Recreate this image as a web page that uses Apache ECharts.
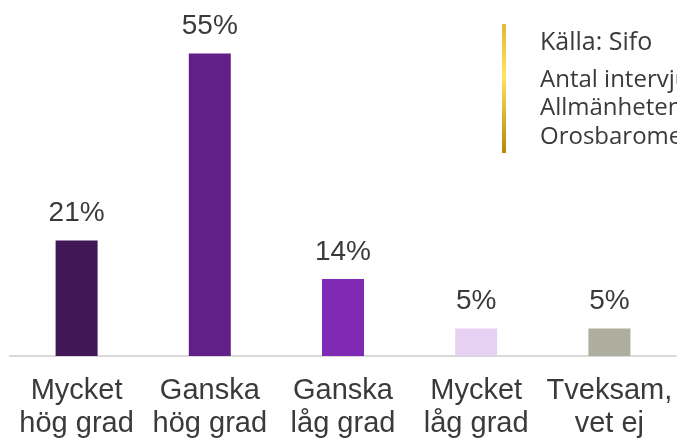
<!DOCTYPE html>
<html>
<head>
<meta charset="utf-8">
<script src="https://cdn.jsdelivr.net/npm/echarts@6/dist/echarts.min.js"></script>
<style>
  html, body { margin: 0; padding: 0; background: #fff; }
  #main { width: 677px; height: 440px; }
</style>
</head>
<body>
<div id="main"></div>
<script>
// kategorier och andelar (%)
const categories = ['Mycket\nhög grad', 'Ganska\nhög grad', 'Ganska\nlåg grad', 'Mycket\nlåg grad', 'Tveksam,\nvet ej'];
const shares = [21, 55, 14, 5, 5];
const barColors = ['#421758', '#611f87', '#7f29b5', '#e6d1f3', '#adae9e'];
const sourceLines = ['Antal intervjuer: 1000', 'Allmänheten 18-79 år', 'Orosbarometern'];

const chart = echarts.init(document.getElementById('main'));

const option = {
  animation: false,
  grid: { left: 10, right: 1, top: 26, bottom: 84 },
  xAxis: {
    type: 'category',
    data: categories,
    axisLine: { show: true, lineStyle: { color: '#d9d9d9', width: 2 } },
    axisTick: { show: false },
    axisLabel: {
      interval: 0,
      margin: 18,
      fontFamily: 'Liberation Sans, Arial, sans-serif',
      fontSize: 29,
      lineHeight: 33,
      color: '#3a3a3a'
    }
  },
  yAxis: {
    type: 'value',
    min: 0,
    max: 60,
    show: false,
    splitLine: { show: false }
  },
  series: [{
    type: 'bar',
    barWidth: 42,
    data: shares.map((v, i) => ({ value: v, itemStyle: { color: barColors[i] } })),
    label: {
      show: true,
      position: 'top',
      distance: 13,
      formatter: p => p.value + '%',
      fontFamily: 'Liberation Sans, Arial, sans-serif',
      fontSize: 28,
      color: '#3a3a3a'
    }
  }],
  graphic: [
    {
      type: 'rect',
      shape: { x: 502, y: 24, width: 4, height: 129 },
      style: {
        fill: new echarts.graphic.LinearGradient(0, 0, 0, 1, [
          { offset: 0, color: '#e4b636' },
          { offset: 0.4, color: '#ffe45e' },
          { offset: 1, color: '#b8860b' }
        ])
      }
    },
    {
      type: 'text',
      left: 540,
      top: 30,
      style: {
        text: 'Källa: Sifo',
        font: '25px "Open Sans", sans-serif',
        fill: '#3a3a3a'
      }
    },
    {
      type: 'text',
      left: 540,
      top: 66,
      style: {
        text: sourceLines.join('\n'),
        font: '24px "Open Sans", sans-serif',
        lineHeight: 28.3,
        fill: '#3a3a3a'
      }
    }
  ]
};

chart.setOption(option);
</script>
</body>
</html>
